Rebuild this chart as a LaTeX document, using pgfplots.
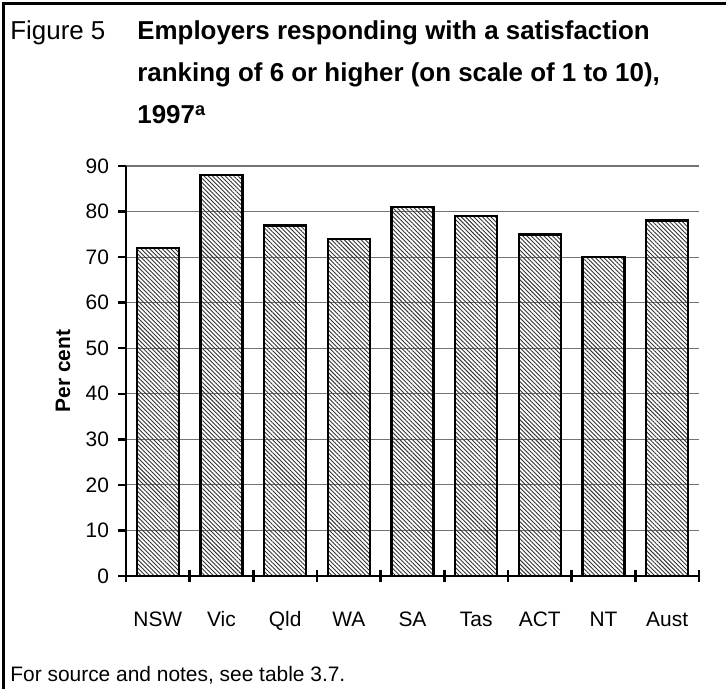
\documentclass[border=0pt]{standalone}
\usepackage{pgfplots}
\pgfplotsset{compat=1.18}
\usepackage{pgfplotstable}
\usepackage{fontspec}
\setmainfont{Liberation Sans}
\usetikzlibrary{patterns.meta}

% Share of employers rating satisfaction 6 or higher, by state
\pgfplotstableread{
idx value
0 72
1 88
2 77
3 74
4 81
5 79
6 75
7 70
8 78
}\satisfaction

\begin{document}
\begin{tikzpicture}
\useasboundingbox (0bp,0bp) rectangle (363bp,344.5bp);
% frame (left and top)
\draw[line width=1.5bp] (1.6bp,0bp) -- (1.6bp,342.9bp) -- (363bp,342.9bp);

% title block
\begin{scope}[every node/.style={anchor=base west, inner sep=0pt}]
\node[font=\fontsize{13}{15.6}\selectfont] at (5bp,324.5bp) {Figure 5};
\node[font=\bfseries\fontsize{13}{15.6}\selectfont] at (68.5bp,324.5bp) {Employers responding with a satisfaction};
\node[font=\bfseries\fontsize{13}{15.6}\selectfont] at (68.5bp,303.5bp) {ranking of 6 or higher (on scale of 1 to 10),};
\node[font=\bfseries\fontsize{13}{15.6}\selectfont] at (68.5bp,282.5bp) {1997\textsuperscript{a}};
\node[font=\fontsize{10.5}{12.6}\selectfont] at (5bp,4bp) {For source and notes, see table 3.7.};
\end{scope}

\node[rotate=90, anchor=base, inner sep=0pt, font=\bfseries\fontsize{10.5}{12.6}\selectfont] at (35bp,159bp) {Per cent};

\begin{axis}[
  at={(63bp,56.5bp)}, anchor=south west,
  scale only axis, width=286.5bp, height=205bp,
  xmin=-0.5, xmax=8.5, ymin=0, ymax=90,
  axis x line*=bottom, axis y line*=left,
  axis line style={line width=1.4bp, -},
  xtick=data,
  xticklabels={NSW,Vic,Qld,WA,SA,Tas,ACT,NT,Aust},
  xtick style={draw=none},
  ytick={0,10,...,90},
  tick align=outside,
  major tick length=3.8bp,
  ytick style={line width=1.2bp, black},
  ymajorgrids,
  grid style={line width=0.6bp, black!55},
  tick label style={font=\fontsize{10.5}{12.6}\selectfont},
  /pgf/number format/assume math mode=true,
  xticklabel style={anchor=base, inner sep=0pt, yshift=-21.5bp},
  yticklabel style={anchor=east, inner sep=0pt, xshift=-4.5bp},
  clip=false,
]
\addplot[ybar, bar width=21bp, draw=black, line width=1.3bp,
  pattern={Lines[angle=-45, distance=1.5bp, line width=0.45bp]},
  pattern color=black!80]
  table[x=idx, y=value] {\satisfaction};
% category separator ticks crossing the baseline
\pgfplotsinvokeforeach{-0.5,0.5,1.5,2.5,3.5,4.5,5.5,6.5,7.5,8.5}{
  \draw[line width=1.2bp] ([yshift=-3bp]axis cs:#1,0) -- ([yshift=3bp]axis cs:#1,0);
}
\end{axis}
\end{tikzpicture}
\end{document}
